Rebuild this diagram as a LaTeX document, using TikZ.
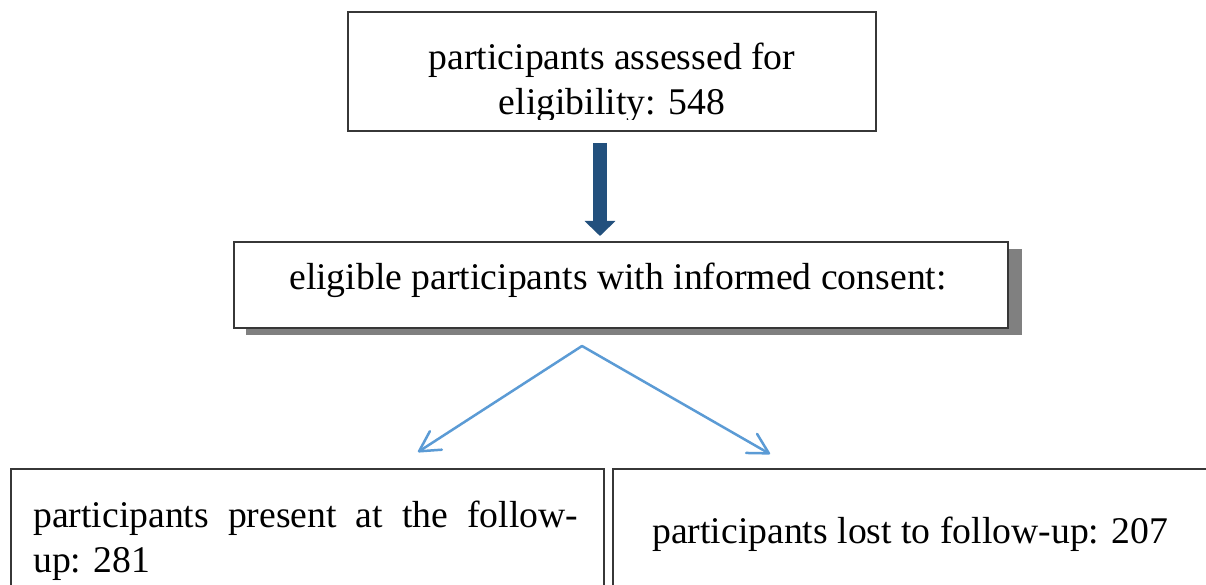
\documentclass[tikz,border=0pt]{standalone}
\usepackage{fontspec}
\setmainfont{Liberation Serif}
\usetikzlibrary{arrows.meta}
\definecolor{boxline}{RGB}{55,55,55}
\definecolor{darkarrow}{RGB}{34,80,125}
\definecolor{lightarrow}{RGB}{91,155,213}
\definecolor{shadowgray}{RGB}{128,128,128}
\begin{document}
\begin{tikzpicture}[x=1pt,y=-1pt,
  boxstyle/.style={draw=boxline,line width=1.5pt,fill=white,rectangle,inner sep=0pt},
  shadowbox/.style={fill=shadowgray,rectangle,inner sep=0pt},
  txt/.style={inner sep=0pt,font=\fontsize{37.7pt}{45pt}\selectfont},
  bigarrow/.style={draw=darkarrow,line width=14pt,-{Triangle[width=30pt,length=15pt]}},
  splitarrow/.style={draw=lightarrow,line width=2.5pt,line cap=round,-{Straight Barb[length=20pt,width=22pt,line cap=round,line join=round]}}]
\useasboundingbox (0,0) rectangle (1206,585);
\fill[white] (0,0) rectangle (1206,585);
% boxes
\node[boxstyle,minimum width=528pt,minimum height=119pt] (top) at (612,71.5) {};
\node[shadowbox,minimum width=776pt,minimum height=86pt] (midshadow) at (634,292) {};
\node[boxstyle,minimum width=774pt,minimum height=86pt] (mid) at (621,285) {};
\node[boxstyle,minimum width=593pt,minimum height=140pt] (left) at (307.5,539) {};
\node[boxstyle,minimum width=607pt,minimum height=140pt] (right) at (916.5,539) {};
% texts
\node[txt,anchor=base] (t1) at (612,70) {participants assessed for};
\begin{scope}
\clip (348,12) rectangle (876,119.5);
\node[txt,anchor=base] (t2) at (612,115) {eligibility: 548};
\end{scope}
\node[txt,anchor=base] (t3) at (618,289) {eligible participants with informed consent:};
\node[txt,anchor=base west] (t4) at (33,527) {\makebox[545pt][s]{participants present at the follow-}};
\node[txt,anchor=base west] (t5) at (33,572) {up: 281};
\node[txt,anchor=base west] (t6) at (652,543) {participants lost to follow-up: 207};
% arrows
\coordinate (a1) at (600,143);
\coordinate (a2) at (600,236);
\draw[bigarrow] (a1) -- (a2);
\coordinate (apex) at (582,346);
\coordinate (lt) at (418,452);
\coordinate (rt) at (770,454);
\draw[splitarrow] (apex) -- (lt);
\draw[splitarrow] (apex) -- (rt);
\end{tikzpicture}
\end{document}
